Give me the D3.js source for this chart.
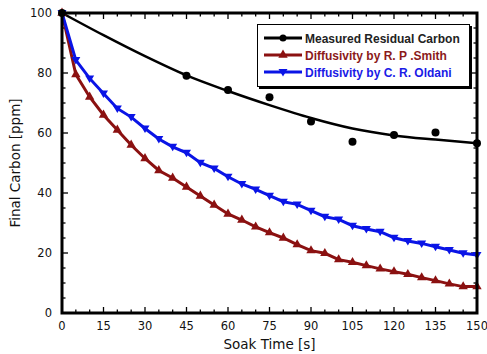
<!DOCTYPE html>
<html>
<head>
<meta charset="utf-8">
<script src="https://cdn.jsdelivr.net/npm/d3@7"></script>
<style>
  body { margin: 0; background: #fff; }
  text { font-family: "DejaVu Sans", sans-serif; }
  text.legend { font-family: "Liberation Sans", Arial, sans-serif; }
</style>
</head>
<body>
<div id="chart"></div>
<script>
// model curves sampled every 5 s
const soakTimes = d3.range(0, 151, 5);
const smithCarbon = [100, 79.5, 72, 66, 61, 56, 51.5, 47.5, 45, 42, 39, 36, 33, 31, 28.7, 26.8,
  25, 22.8, 20.8, 19.9, 17.8, 16.9, 15.8, 14.7, 13.8, 12.9, 11.8, 10.8, 9.7, 8.8, 8.8];
const oldaniCarbon = [100, 84.3, 78.2, 73.2, 68.2, 65.3, 61.5, 58, 55.4, 53.4, 50.1, 48.2, 45.4, 43, 41.2, 39.1,
  37.1, 36.2, 34.1, 32.1, 31.2, 29.1, 28, 27.1, 25.1, 24, 23.2, 22.1, 21, 19.9, 19.3];

// measured points and the fit through them
const measuredTimes = [0, 45, 60, 75, 90, 105, 120, 135, 150];
const measuredCarbon = [100, 79.1, 74.3, 71.9, 63.8, 57.1, 59.3, 60.2, 56.6];
const fitTimes = [0, 15, 30, 45, 60, 75, 90, 105, 120, 135, 150];
const fitCarbon = [100, 92.6, 85.6, 79.2, 74, 69.3, 65, 61.5, 59.2, 57.8, 56.6];

const xTicks = d3.range(0, 151, 15);
const yTicks = [0, 20, 40, 60, 80, 100];

const legendLabels = ['Measured Residual Carbon', 'Diffusivity by R. P .Smith', 'Diffusivity by C. R. Oldani'];
const colors = { measured: '#000000', smith: '#8b1111', oldani: '#0a14e6' };
const legendText = ['#222222', '#8b1a1a', '#1a1ae6'];

const width = 487, height = 354;
const margin = { top: 13, right: 10, bottom: 41, left: 62 };

const svg = d3.select('#chart').append('svg')
  .attr('width', width)
  .attr('height', height);

const x = d3.scaleLinear().domain([0, 150]).range([margin.left, width - margin.right]);
const y = d3.scaleLinear().domain([0, 100]).range([height - margin.bottom, margin.top]);

const [x0, x1] = x.range();
const [y0, y1] = y.range();

// ticks (inward, on all four sides)
const ticks = svg.append('g').attr('stroke', '#000').attr('stroke-width', 1.3);
d3.range(0, 151, 5).forEach(t => {
  const len = t % 15 === 0 ? 6 : 3.5;
  ticks.append('line').attr('x1', x(t)).attr('x2', x(t)).attr('y1', y0).attr('y2', y0 - len);
  ticks.append('line').attr('x1', x(t)).attr('x2', x(t)).attr('y1', y1).attr('y2', y1 + len);
});
d3.range(0, 101, 5).forEach(v => {
  const len = v % 20 === 0 ? 6 : 3.5;
  ticks.append('line').attr('y1', y(v)).attr('y2', y(v)).attr('x1', x0).attr('x2', x0 + len);
  ticks.append('line').attr('y1', y(v)).attr('y2', y(v)).attr('x1', x1).attr('x2', x1 - len);
});

// tick labels
svg.append('g').selectAll('text').data(xTicks).enter().append('text')
  .attr('x', d => x(d))
  .attr('y', y0 + 17)
  .attr('text-anchor', 'middle')
  .attr('font-size', 11.5)
  .attr('fill', '#111')
  .text(d => d);
svg.append('g').selectAll('text').data(yTicks).enter().append('text')
  .attr('x', x0 - 10)
  .attr('y', d => y(d) + 4)
  .attr('text-anchor', 'end')
  .attr('font-size', 11.5)
  .attr('fill', '#111')
  .text(d => d);

// axis titles
svg.append('text')
  .attr('x', (x0 + x1) / 2)
  .attr('y', 349)
  .attr('text-anchor', 'middle')
  .attr('font-size', 13.5)
  .attr('fill', '#111')
  .text('Soak Time [s]');
svg.append('text')
  .attr('transform', `translate(20, ${(y0 + y1) / 2}) rotate(-90)`)
  .attr('text-anchor', 'middle')
  .attr('font-size', 13.5)
  .attr('fill', '#111')
  .text('Final Carbon [ppm]');

// curves
const line = (xs, ys) => d3.line()
  .x((d, i) => x(xs[i]))
  .y(d => y(d))(ys);
const smooth = d3.line()
  .x((d, i) => x(fitTimes[i]))
  .y(d => y(d))
  .curve(d3.curveMonotoneX);

const plot = svg.append('g');
plot.append('path')
  .attr('d', smooth(fitCarbon))
  .attr('fill', 'none')
  .attr('stroke', colors.measured)
  .attr('stroke-width', 2.5);
plot.append('path')
  .attr('d', line(soakTimes, smithCarbon))
  .attr('fill', 'none')
  .attr('stroke', colors.smith)
  .attr('stroke-width', 3);
plot.append('path')
  .attr('d', line(soakTimes, oldaniCarbon))
  .attr('fill', 'none')
  .attr('stroke', colors.oldani)
  .attr('stroke-width', 3);

const triUp = d3.symbol().type(d3.symbolTriangle).size(38);
const triDown = 'M-4.5,-3L4.5,-3L0,4.5Z';

plot.append('g').selectAll('path').data(smithCarbon).enter().append('path')
  .attr('d', triUp)
  .attr('transform', (d, i) => `translate(${x(soakTimes[i])},${y(d)})`)
  .attr('fill', colors.smith);
plot.append('g').selectAll('path').data(oldaniCarbon).enter().append('path')
  .attr('d', triDown)
  .attr('transform', (d, i) => `translate(${x(soakTimes[i])},${y(d)})`)
  .attr('fill', colors.oldani);
plot.append('g').selectAll('circle').data(measuredCarbon).enter().append('circle')
  .attr('cx', (d, i) => x(measuredTimes[i]))
  .attr('cy', d => y(d))
  .attr('r', 4)
  .attr('fill', colors.measured);

// frame
svg.append('rect')
  .attr('x', x0).attr('y', y1)
  .attr('width', x1 - x0).attr('height', y0 - y1)
  .attr('fill', 'none')
  .attr('stroke', '#000')
  .attr('stroke-width', 3);

// legend
const lg = svg.append('g').attr('transform', 'translate(257, 24)');
lg.append('rect').attr('x', 2).attr('y', 2).attr('width', 213).attr('height', 63).attr('fill', '#000');
lg.append('rect').attr('x', 0.5).attr('y', 0.5).attr('width', 212).attr('height', 62)
  .attr('fill', '#fff').attr('stroke', '#000').attr('stroke-width', 1);
const markers = [
  g => g.append('circle').attr('r', 3.5).attr('fill', colors.measured),
  g => g.append('path').attr('d', triUp).attr('fill', colors.smith),
  g => g.append('path').attr('d', triDown).attr('fill', colors.oldani)
];
const lineColors = [colors.measured, colors.smith, colors.oldani];
legendLabels.forEach((label, i) => {
  const row = lg.append('g').attr('transform', `translate(0, ${14 + i * 17})`);
  row.append('line').attr('x1', 7).attr('x2', 45).attr('stroke', lineColors[i]).attr('stroke-width', 3);
  markers[i](row.append('g').attr('transform', 'translate(26, 0)'));
  row.append('text')
    .attr('class', 'legend')
    .attr('x', 48)
    .attr('y', 4.5)
    .attr('font-size', 12)
    .attr('font-weight', 'bold')
    .attr('fill', legendText[i])
    .text(label);
});
</script>
</body>
</html>
